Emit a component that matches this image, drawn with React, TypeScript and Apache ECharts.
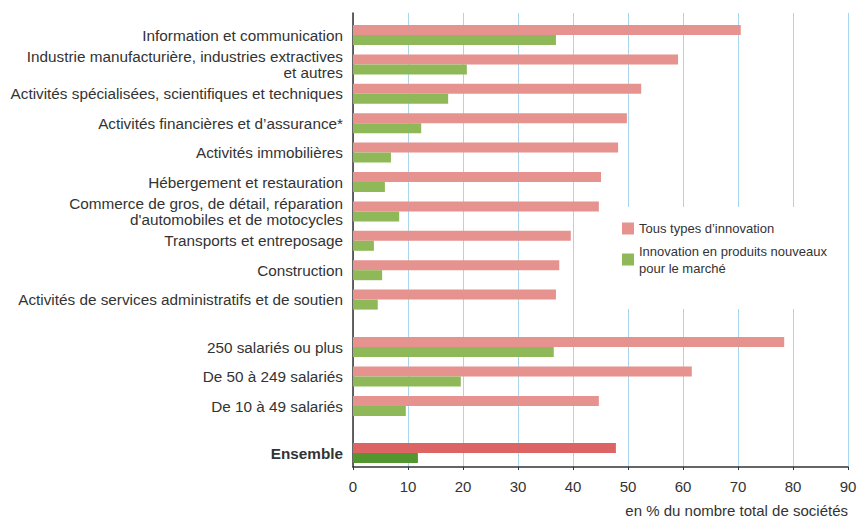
import React, { useEffect, useRef } from "react";
import * as echarts from "echarts";

const sectorCategories = [
  "Information et communication",
  "Industrie manufacturière, industries extractives\net autres",
  "Activités spécialisées, scientifiques et techniques",
  "Activités financières et d’assurance*",
  "Activités immobilières",
  "Hébergement et restauration",
  "Commerce de gros, de détail, réparation\nd'automobiles et de motocycles",
  "Transports et entreposage",
  "Construction",
  "Activités de services administratifs et de soutien",
];
const sectorAll = [70.5, 59.1, 52.4, 49.8, 48.2, 45.1, 44.7, 39.6, 37.5, 36.9];
const sectorNew = [36.9, 20.7, 17.3, 12.4, 6.9, 5.8, 8.4, 3.8, 5.3, 4.5];

const sizeCategories = ["250 salariés ou plus", "De 50 à 249 salariés", "De 10 à 49 salariés"];
const sizeAll = [78.4, 61.6, 44.7];
const sizeNew = [36.5, 19.6, 9.6];

const totalCategories = ["Ensemble"];
const totalAll = [47.8];
const totalNew = [11.8];

const xTicks = [0, 90, 10];
const seriesNames = ["Tous types d’innovation", "Innovation en produits nouveaux\npour le marché"];
const axisName = "en % du nombre total de sociétés";

const PINK = "#E6928F";
const GREEN = "#8FB959";
const RED_DARK = "#DC6464";
const GREEN_DARK = "#539630";
const GRIDLINE = "#A8D6EE";
const TEXT = "#333333";
const FONT = "Liberation Sans, Arial, sans-serif";

export default function App() {
  const ref = useRef<HTMLDivElement>(null);
  useEffect(() => {
    if (!ref.current) return;
    const chart = echarts.init(ref.current, undefined, { renderer: "svg" });
    const left = 353;
    const width = 495;
    const grids = [
      { left, width, top: 13, height: 454 },
      { left, width, top: 20.3, height: 294 },
      { left, width, top: 332.25, height: 88.5 },
      { left, width, top: 438.25, height: 29.5 },
    ];
    const hiddenX = (gi: number) => ({
      type: "value" as const,
      gridIndex: gi,
      min: xTicks[0],
      max: xTicks[1],
      interval: xTicks[2],
      show: false,
    });
    const catY = (gi: number, data: string[], bold = false) => ({
      type: "category" as const,
      gridIndex: gi,
      data,
      inverse: true,
      axisLine: { show: false },
      axisTick: { show: false },
      axisLabel: {
        color: TEXT,
        fontSize: 15.3,
        fontFamily: FONT,
        fontWeight: bold ? ("bold" as const) : ("normal" as const),
        margin: 10,
        lineHeight: 16,
      },
    });
    const barSeries = (gi: number, name: string, data: number[], color: string) => ({
      type: "bar" as const,
      name,
      xAxisIndex: gi,
      yAxisIndex: gi,
      data,
      barWidth: 10,
      barGap: "0%",
      itemStyle: { color },
      emphasis: { disabled: true },
    });

    chart.setOption({
      animation: false,
      backgroundColor: "#ffffff",
      textStyle: { fontFamily: FONT },
      grid: grids.map((g) => ({ ...g, containLabel: false, outerBoundsMode: "none" })),
      xAxis: [
        {
          type: "value",
          gridIndex: 0,
          min: xTicks[0],
          max: xTicks[1],
          interval: xTicks[2],
          axisLine: { show: true, lineStyle: { color: "#333", width: 1.5 } },
          axisTick: { show: true, length: 3, lineStyle: { color: "#333" } },
          splitLine: { show: true, lineStyle: { color: GRIDLINE, width: 1 } },
          axisLabel: { color: TEXT, fontSize: 15, fontFamily: FONT, margin: 12 },
          name: axisName,
          nameLocation: "end",
          nameGap: 0,
          nameTextStyle: {
            color: TEXT,
            fontSize: 15,
            fontFamily: FONT,
            align: "right",
            verticalAlign: "top",
            padding: [36, 0, 0, 0],
          },
        },
        hiddenX(1),
        hiddenX(2),
        hiddenX(3),
      ],
      yAxis: [
        {
          type: "value",
          gridIndex: 0,
          min: 0,
          max: 1,
          axisLine: { show: true, lineStyle: { color: "#333", width: 1.5 } },
          axisTick: { show: false },
          axisLabel: { show: false },
          splitLine: { show: false },
        },
        catY(1, sectorCategories),
        catY(2, sizeCategories),
        catY(3, totalCategories, true),
      ],
      legend: {
        orient: "vertical",
        left: 610,
        top: 207,
        width: 245,
        padding: [13, 10, 24, 12],
        backgroundColor: "#ffffff",
        itemWidth: 12,
        itemHeight: 12,
        itemGap: -3,
        icon: "rect",
        selectedMode: false,
        textStyle: { color: TEXT, fontSize: 13, fontFamily: FONT, lineHeight: 17 },
        data: [
          { name: seriesNames[0], itemStyle: { color: PINK } },
          {
            name: seriesNames[1],
            itemStyle: { color: GREEN },
            textStyle: { padding: [17, 0, 0, 0] },
          },
        ],
      },
      series: [
        barSeries(1, seriesNames[0], sectorAll, PINK),
        barSeries(1, seriesNames[1], sectorNew, GREEN),
        barSeries(2, seriesNames[0], sizeAll, PINK),
        barSeries(2, seriesNames[1], sizeNew, GREEN),
        barSeries(3, seriesNames[0], totalAll, RED_DARK),
        barSeries(3, seriesNames[1], totalNew, GREEN_DARK),
      ],
    });
    return () => chart.dispose();
  }, []);
  return (
    <div
      ref={ref}
      style={{ position: "fixed", left: 0, top: 0, width: 861, height: 518 }}
    />
  );
}
